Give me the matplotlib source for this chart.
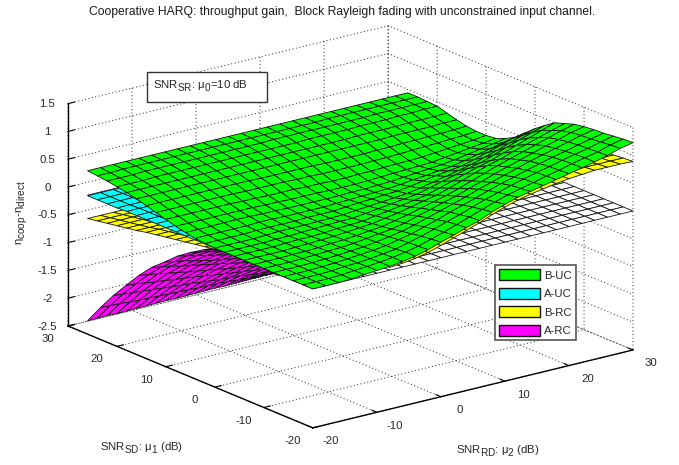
import numpy as np
import matplotlib
matplotlib.use('Agg')
import matplotlib.pyplot as plt
import matplotlib._mathtext as _mt
from matplotlib.patches import Patch, Rectangle
from matplotlib.transforms import ScaledTranslation
from mpl_toolkits.mplot3d import proj3d

plt.rcParams['font.family'] = ['Liberation Sans', 'DejaVu Sans']
plt.rcParams['mathtext.fontset'] = 'custom'
plt.rcParams['mathtext.rm'] = 'Liberation Sans'
plt.rcParams['mathtext.it'] = 'Liberation Sans'
plt.rcParams['mathtext.bf'] = 'Liberation Sans'
plt.rcParams['axes.unicode_minus'] = False
_mt.SHRINK_FACTOR = 0.88
_mt.FontConstantsBase.sub1 = 0.55
_mt.FontConstantsBase.sub2 = 0.6
_mt.FontConstantsBase.subdrop = 0.6

TITLE = 'Cooperative HARQ: throughput gain,  Block Rayleigh fading with unconstrained input channel.'
x_ticks = [-20, -10, 0, 10, 20, 30]
y_ticks = [-20, -10, 0, 10, 20, 30]
z_ticks = [-2.5, -2, -1.5, -1, -0.5, 0, 0.5, 1, 1.5]
z_labels = ['-2.5', '-2', '-1.5', '-1', '-0.5', '0', '0.5', '1', '1.5']
legend_names = ['B-UC', 'A-UC', 'B-RC', 'A-RC']

# Grid of SNR_RD (columns) and SNR_SD (rows), dB
x_full = [-20,-18,-16,-14,-12,-10,-8,-6,-4,-2,0,2,4,6,8,10,12,14,16,18,20,22,24,26,28,30]
y_full = [-20,-18,-16,-14,-12,-10,-8,-6,-4,-2,0,2,4,6,8,10,12,14,16,18,20,22,24,26]

b_uc = [
 [0,0,0,.01,.03,.05,.07,.10,.14,.20,.28,.35,.43,.50,.60,.68,.75,.80,.85,.90,.95,1.0,1.05,1.11,1.18,1.23],
 [0,0,0,.01,.03,.05,.07,.10,.14,.19,.26,.33,.41,.49,.57,.65,.72,.78,.83,.89,.94,1.0,1.05,1.10,1.17,1.22],
 [0,0,0,.01,.03,.04,.06,.09,.12,.18,.24,.31,.39,.46,.54,.62,.69,.76,.82,.88,.93,.99,1.04,1.09,1.15,1.20],
 [0,0,0,.01,.02,.04,.06,.08,.11,.16,.21,.28,.35,.43,.50,.57,.65,.72,.78,.85,.91,.97,1.02,1.08,1.13,1.18],
 [0,0,0,.01,.02,.03,.05,.07,.10,.14,.18,.24,.31,.38,.45,.52,.60,.67,.74,.81,.88,.94,1.0,1.06,1.12,1.17],
 [0,0,0,.01,.02,.03,.04,.06,.09,.12,.15,.20,.27,.33,.40,.46,.54,.61,.69,.76,.83,.90,.97,1.03,1.10,1.15],
 [0,0,0,.01,.01,.02,.04,.05,.07,.10,.12,.17,.22,.28,.34,.40,.47,.55,.63,.71,.78,.85,.92,.99,1.06,1.12],
 [0,0,0,0,.01,.02,.03,.04,.06,.08,.10,.14,.18,.23,.28,.33,.40,.48,.56,.64,.70,.78,.85,.92,.99,1.06],
 [0,0,0,0,.01,.02,.02,.03,.05,.06,.07,.11,.14,.18,.22,.26,.33,.40,.47,.54,.60,.68,.76,.84,.92,1.0],
 [0,0,0,0,.01,.01,.02,.03,.04,.05,.05,.08,.11,.14,.17,.20,.26,.32,.38,.44,.49,.57,.65,.73,.81,.88],
 [0,0,0,0,.01,.02,.02,.02,.03,.03,.04,.06,.08,.10,.12,.14,.18,.23,.28,.33,.38,.45,.52,.60,.68,.75],
 [.01,.01,.01,.01,.02,.02,.02,.02,.03,.03,.03,.05,.07,.08,.10,.11,.14,.18,.22,.25,.28,.34,.41,.48,.55,.60],
 [.03,.03,.03,.03,.03,.04,.04,.03,.03,.03,.03,.04,.05,.06,.07,.08,.10,.13,.15,.18,.20,.25,.30,.35,.40,.45],
 [.06,.06,.06,.07,.07,.07,.06,.06,.05,.05,.05,.05,.05,.06,.06,.07,.08,.10,.12,.14,.16,.19,.23,.27,.31,.35],
 [.10,.10,.10,.10,.10,.10,.10,.09,.09,.08,.08,.08,.07,.07,.07,.08,.09,.10,.11,.12,.13,.16,.19,.22,.25,.28],
 [.15,.15,.15,.15,.15,.15,.14,.14,.13,.13,.13,.12,.12,.11,.11,.12,.12,.13,.14,.14,.15,.17,.19,.21,.23,.26],
 [.20,.20,.20,.20,.20,.20,.20,.19,.19,.19,.19,.18,.18,.17,.17,.17,.17,.18,.18,.19,.20,.21,.22,.23,.24,.26],
 [.25,.25,.25,.25,.25,.25,.25,.25,.25,.24,.24,.24,.24,.24,.23,.23,.23,.23,.24,.24,.25,.25,.26,.26,.27,.28],
 [.30,.30,.30,.30,.30,.30,.30,.30,.30,.30,.30,.30,.30,.30,.30,.30,.30,.30,.30,.30,.31,.31,.31,.31,.32,.32],
 [.34,.34,.34,.34,.34,.34,.34,.34,.34,.34,.34,.34,.34,.34,.34,.34,.34,.34,.35,.35,.35,.35,.36,.36,.36,.37],
 [.37,.37,.37,.38,.38,.38,.38,.38,.38,.38,.38,.38,.38,.38,.38,.39,.39,.39,.39,.40,.40,.40,.41,.41,.42,.42],
 [.40,.40,.40,.41,.41,.41,.41,.41,.41,.41,.41,.41,.41,.42,.42,.42,.42,.42,.42,.42,.42,.43,.43,.43,.43,.43],
 [.42,.42,.43,.43,.43,.43,.43,.43,.43,.43,.43,.43,.43,.43,.43,.43,.43,.43,.44,.44,.44,.44,.44,.44,.44,.44],
 [.44,.44,.44,.44,.44,.44,.44,.44,.44,.44,.44,.44,.44,.44,.44,.44,.44,.44,.44,.44,.44,.44,.44,.44,.44,.44],
]

# Reference plane z = 0 (white mesh)
zero_row = [0]*26

# Visible part of A-UC
x_a_uc = [-20,-18,-16,-14,-12,-10,-8,-6]
y_a_uc = [-4,-2,0,2,4,6,8,10,12,14,16,18,20,22,24,26]
a_uc = [
 [0,0,0,0,0,0,0,0],[0,0,0,0,0,0,0,0],[0,0,0,0,0,0,0,0],[0,0,0,0,0,0,0,0],
 [0,0,0,0,0,0,0,0],[0,0,0,0,0,0,0,0],[0,0,0,0,0,0,0,0],[0,0,0,0,0,0,0,0],
 [0,0,0,0,0,0,0,0],[0,0,0,0,0,0,0,0],[0,0,0,0,0,0,0,0],[0,0,0,0,0,0,0,0],
 [-.01,-.01,-.01,0,0,0,0,0],[-.01,-.01,-.01,-.01,-.01,0,0,0],
 [-.01,-.01,-.01,-.01,-.01,-.01,-.01,0],[-.01,-.01,-.01,-.01,-.01,-.01,-.01,-.01],
]

# Visible part of B-RC, near the far-left corner
x_b_rc_l = [-20,-18,-16,-14,-12,-10,-8]
y_b_rc_l = [-4,-2,0,2,4,6,8,10,12,14,16,18,20,22,24,26]
b_rc_l = [
 [0,0,0,0,0,0,0],[0,0,0,0,0,0,0],[-.02,-.02,-.02,-.02,-.02,-.02,-.02],
 [-.05,-.05,-.05,-.05,-.05,-.05,-.05],[-.08,-.08,-.08,-.08,-.08,-.08,-.08],
 [-.11,-.11,-.11,-.11,-.11,-.11,-.11],[-.14,-.14,-.14,-.14,-.14,-.14,-.14],
 [-.17,-.17,-.17,-.17,-.17,-.17,-.17],[-.20,-.20,-.20,-.20,-.20,-.20,-.20],
 [-.23,-.23,-.23,-.23,-.23,-.23,-.23],[-.27,-.27,-.27,-.27,-.27,-.27,-.27],
 [-.30,-.30,-.30,-.30,-.30,-.30,-.30],[-.33,-.33,-.33,-.33,-.33,-.33,-.33],
 [-.36,-.36,-.36,-.36,-.36,-.36,-.36],[-.39,-.39,-.39,-.39,-.39,-.39,-.39],
 [-.42,-.42,-.42,-.42,-.42,-.42,-.42],
]

# Visible part of B-RC, along the SNR_RD edge
x_b_rc_r = [-8,-6,-4,-2,0,2,4,6,8,10,12,14,16,18,20,22,24,26,28,30]
y_b_rc_r = [-20,-18,-16,-14,-12,-10,-8]
b_rc_r = [
 [.05,.07,.10,.15,.22,.30,.38,.46,.55,.63,.70,.75,.79,.83,.86,.88,.90,.90,.90,.89],
 [.05,.07,.10,.14,.21,.29,.37,.45,.53,.61,.68,.74,.78,.82,.85,.87,.88,.88,.88,.88],
 [.04,.06,.09,.13,.20,.27,.35,.43,.51,.59,.66,.72,.76,.80,.83,.85,.86,.86,.86,.86],
 [.04,.06,.08,.12,.18,.25,.32,.40,.48,.55,.62,.68,.73,.77,.80,.82,.84,.85,.85,.85],
 [.03,.05,.07,.11,.16,.22,.29,.36,.43,.50,.57,.63,.69,.73,.77,.80,.82,.84,.85,.85],
 [.03,.04,.06,.09,.14,.19,.26,.32,.38,.44,.51,.58,.64,.69,.73,.76,.79,.82,.84,.85],
 [.02,.03,.05,.08,.12,.17,.22,.27,.33,.38,.44,.51,.58,.63,.68,.72,.76,.79,.82,.84],
]

# Visible part of A-RC
x_a_rc = [-20,-18,-16,-14,-12,-10,-8,-6,-4,-2,0,2]
y_a_rc = [-14,-12,-10,-8,-6,-4,-2,0,2,4,6,8,10,12,14,16,18,20,22,24,26]
a_rc = [
 [0,0,0,0,0,0,0,0,0,0,0,0],
 [-.02,-.02,-.02,-.02,-.01,-.01,-.01,-.01,-.01,-.01,-.01,-.01],
 [-.13,-.12,-.11,-.10,-.10,-.09,-.09,-.09,-.09,-.09,-.09,-.09],
 [-.25,-.23,-.21,-.20,-.19,-.18,-.17,-.17,-.16,-.17,-.17,-.17],
 [-.37,-.34,-.31,-.29,-.27,-.26,-.25,-.24,-.24,-.24,-.25,-.25],
 [-.49,-.45,-.42,-.39,-.36,-.34,-.33,-.32,-.32,-.32,-.33,-.33],
 [-.61,-.56,-.52,-.48,-.45,-.43,-.41,-.40,-.40,-.40,-.41,-.41],
 [-.72,-.66,-.61,-.57,-.53,-.50,-.49,-.48,-.47,-.48,-.48,-.48],
 [-.84,-.77,-.71,-.66,-.62,-.59,-.57,-.55,-.55,-.55,-.56,-.56],
 [-.96,-.88,-.82,-.76,-.71,-.67,-.65,-.63,-.63,-.63,-.64,-.64],
 [-1.08,-.99,-.92,-.85,-.80,-.76,-.73,-.71,-.71,-.71,-.72,-.72],
 [-1.20,-1.10,-1.02,-.95,-.89,-.84,-.82,-.79,-.79,-.79,-.80,-.80],
 [-1.31,-1.21,-1.11,-1.03,-.97,-.92,-.89,-.86,-.86,-.86,-.87,-.88],
 [-1.43,-1.32,-1.22,-1.13,-1.06,-1.00,-.97,-.94,-.94,-.94,-.95,-.96],
 [-1.55,-1.43,-1.32,-1.22,-1.15,-1.09,-1.05,-1.02,-1.02,-1.02,-1.03,-1.04],
 [-1.67,-1.54,-1.42,-1.32,-1.24,-1.17,-1.14,-1.10,-1.09,-1.10,-1.11,-1.12],
 [-1.79,-1.65,-1.52,-1.41,-1.32,-1.25,-1.22,-1.18,-1.17,-1.18,-1.19,-1.20],
 [-1.91,-1.76,-1.62,-1.51,-1.41,-1.34,-1.30,-1.26,-1.25,-1.26,-1.27,-1.28],
 [-2.02,-1.86,-1.72,-1.60,-1.49,-1.41,-1.37,-1.33,-1.32,-1.33,-1.34,-1.35],
 [-2.14,-1.97,-1.82,-1.69,-1.58,-1.50,-1.46,-1.41,-1.40,-1.41,-1.42,-1.43],
 [-2.26,-2.08,-1.92,-1.79,-1.67,-1.58,-1.54,-1.49,-1.48,-1.49,-1.50,-1.51],
]

W, H = 679, 465
GREEN, CYAN, YELLOW, MAGENTA = '#00ff00', '#00ffff', '#ffff00', '#ff00ff'
EDGE = '#151515'
TXT = '#262626'
FS = 8.2

fig = plt.figure(figsize=(W/100, H/100), dpi=100, facecolor='white')
ax = fig.add_axes([0, 0, 1, 1], projection='3d', proj_type='ortho', computed_zorder=False)
ax.set_facecolor('none')
ax.patch.set_visible(False)
ax.view_init(elev=18.55, azim=-127.4)
ax.set_box_aspect((1, 1, 0.582))
ax.set_xlim(-20, 30, view_margin=0)
ax.set_ylim(-20, 30, view_margin=0)
ax.set_zlim(-2.5, 1.5, view_margin=0)

def surf(xs, ys, zs, color, order):
    X, Y = np.meshgrid(xs, ys)
    ax.plot_surface(X, Y, np.array(zs, dtype=float), rstride=1, cstride=1, color=color,
                    edgecolor=EDGE, linewidth=0.6, shade=False, antialiased=True, zorder=order)

surf(x_full, y_full, [zero_row for _ in y_full], 'white', 1)
surf(x_a_rc, y_a_rc, a_rc, MAGENTA, 2)
surf(x_b_rc_l, y_b_rc_l, b_rc_l, YELLOW, 3)
surf(x_b_rc_r, y_b_rc_r, b_rc_r, YELLOW, 3)
surf(x_a_uc, y_a_uc, a_uc, CYAN, 4)
surf(x_full, y_full, b_uc, GREEN, 5)

ax.set_xticks(x_ticks)
ax.set_yticks(y_ticks)
ax.set_zticks(z_ticks)
ax.set_zticklabels(z_labels)
for a in (ax.xaxis, ax.yaxis, ax.zaxis):
    a.pane.set_visible(False)
    a.line.set_color('black')
    a.line.set_linewidth(1.0)
    a._axinfo['grid'].update(color='#222222', linewidth=0.7, linestyle=(0, (1, 2.6)))
    a._axinfo['tick'].update(inward_factor=0.0, outward_factor=0.25, linewidth={True: 0.8, False: 0.8}, color='black')
ax.tick_params(axis='x', labelsize=FS, labelcolor=TXT, pad=1)
ax.tick_params(axis='y', labelsize=FS, labelcolor=TXT, pad=1)
ax.tick_params(axis='z', labelsize=FS, labelcolor=TXT, pad=1)
ax.zaxis.set_ticks_position('upper')

# Fit the projected box to the reference's pixel corners
fig.canvas.draw()
def px(x, y, z):
    a, b, _ = proj3d.proj_transform(x, y, z, ax.get_proj())
    return ax.transData.transform((a, b))

SIZE = 1000.0
ax.set_position([0, 0, SIZE/W, SIZE/H])
ax.apply_aspect()
pl = px(-20, 30, -2.5)
pr = px(30, -20, -2.5)
SIZE2 = SIZE * (633 - 68) / (pr[0] - pl[0])
ax.set_position([0, 0, SIZE2/W, SIZE2/H])
ax.apply_aspect()
pl = px(-20, 30, -2.5)
ax.set_position([(68 - pl[0])/W, ((H - 326) - pl[1])/H, SIZE2/W, SIZE2/H])
ax.apply_aspect()

# Nudge the tick labels (pixels) to sit where the reference has them
def nudge(axis, dx, dy):
    off = ScaledTranslation(dx/100, dy/100, fig.dpi_scale_trans)
    for t in axis.get_major_ticks():
        lab = t.label1
        base = lab.set_transform
        lab.set_transform = (lambda tr, b=base: b(tr + off))
nudge(ax.xaxis, 8.5, 4.5)
nudge(ax.yaxis, -7, 4)
nudge(ax.zaxis, 2, 3.5)

fig.suptitle(TITLE, x=342/W, y=1-12/H, fontsize=8.7, color='#1a1a1a', va='center', ha='center')
fig.text(498/W, 1-451/H, r'SNR$_{\mathrm{RD}}$: $\mu_2$ (dB)', fontsize=FS, color=TXT, ha='center', va='center')
fig.text(142/W, 1-448/H, r'SNR$_{\mathrm{SD}}$: $\mu_1$ (dB)', fontsize=FS, color=TXT, ha='center', va='center')
fig.text(22/W, 1-213/H, r'$\eta_{\mathrm{coop}}$-$\eta_{\mathrm{direct}}$', fontsize=FS, color=TXT,
         rotation=90, ha='center', va='center')

fig.add_artist(Rectangle((147/W, 1-102/H), 120/W, 30/H, transform=fig.transFigure,
                         facecolor='white', edgecolor='#333333', linewidth=1.0, zorder=5))
fig.text(153/W, 1-86/H, r'SNR$_{\mathrm{SR}}$: $\mu_0$=10 dB', fontsize=FS, color=TXT,
         ha='left', va='center', zorder=6)

handles = [Patch(facecolor=c, edgecolor='#111111', linewidth=1.0) for c in (GREEN, CYAN, YELLOW, MAGENTA)]
leg = fig.legend(handles, legend_names, loc='lower left', bbox_to_anchor=(495/W, 1-340/H),
                 borderaxespad=0, fontsize=FS, fancybox=False, framealpha=1, edgecolor='#555555',
                 handlelength=3.6, handleheight=1.15, labelspacing=0.62, handletextpad=0.4,
                 borderpad=0.33, labelcolor=TXT)
leg.get_frame().set_linewidth(1.2)
leg.set_zorder(5)

fig.savefig('out.png', dpi=100, facecolor='white')
